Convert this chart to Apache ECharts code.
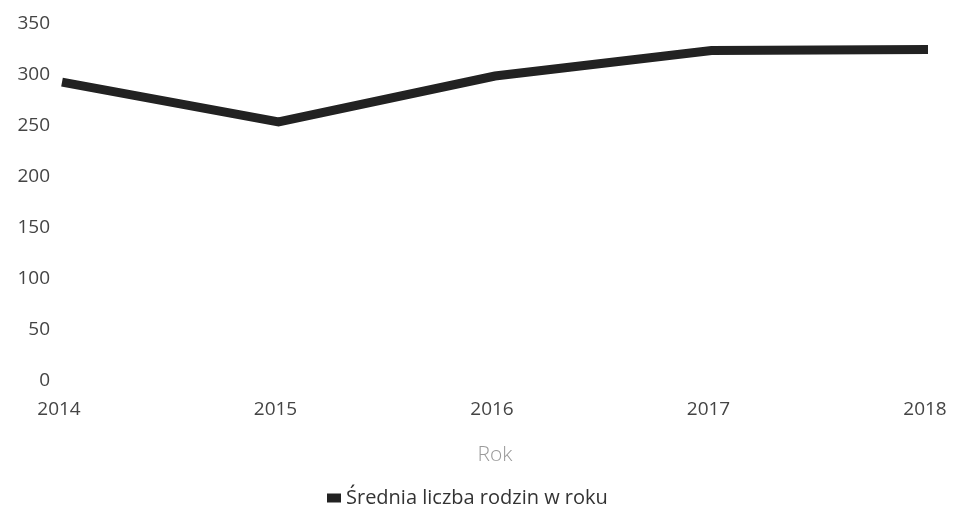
<!DOCTYPE html>
<html><head><meta charset="utf-8">
<script src="https://cdn.jsdelivr.net/npm/echarts@6/dist/echarts.min.js"></script>
<style>html,body{margin:0;padding:0;background:#fff}#c{width:954px;height:507px}</style>
</head><body><div id="c"></div>
<script>
const categories = ['2014', '2015', '2016', '2017', '2018'];
const seriesName = 'Średnia liczba rodzin w roku';
const values = [293, 254, 299, 324, 325];
const yTicks = [0, 50, 100, 150, 200, 250, 300, 350];

const chart = echarts.init(document.getElementById('c'));
chart.setOption({
  animation: false,
  textStyle: { fontFamily: 'Open Sans' },
  grid: { left: 62, right: 26, top: 24, bottom: 126, containLabel: false },
  legend: {
    bottom: -6, left: 322,
    icon: 'rect', itemWidth: 14, itemHeight: 9, itemGap: 6,
    textStyle: { fontSize: 20, color: '#333', fontFamily: 'Open Sans' },
    data: [seriesName]
  },
  xAxis: {
    type: 'category', data: categories, boundaryGap: false,
    name: 'Rok', nameLocation: 'middle', nameGap: 64,
    nameTextStyle: { fontSize: 21, color: '#9a9a9a', fontWeight: 300 },
    axisLine: { show: false }, axisTick: { show: false },
    axisLabel: { fontSize: 19, color: '#444', margin: 19, padding: [0, 6, 0, 0] },
    splitLine: { show: false }
  },
  yAxis: {
    type: 'value', min: yTicks[0], max: yTicks[yTicks.length - 1], interval: 50,
    axisLine: { show: false }, axisTick: { show: false },
    axisLabel: { fontSize: 19, color: '#444', margin: 12 },
    splitLine: { show: false }
  },
  series: [{
    name: seriesName, type: 'line', data: values,
    symbol: 'none', lineStyle: { width: 9, color: '#222', cap: 'butt', join: 'miter' },
    itemStyle: { color: '#222' }
  }]
});
</script></body></html>
